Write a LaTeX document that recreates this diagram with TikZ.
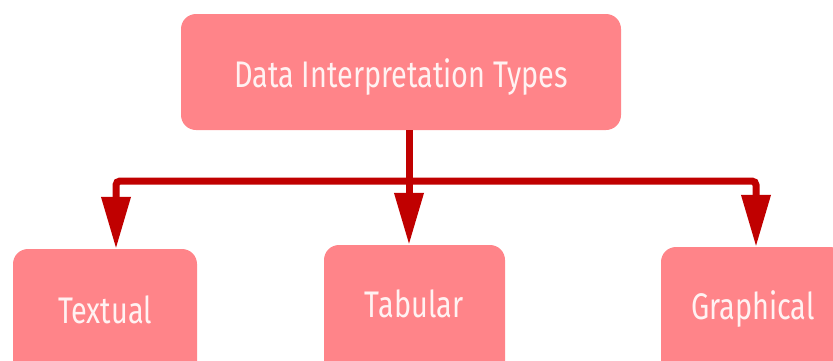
\documentclass[tikz,border=0pt]{standalone}
\usepackage{fontspec}
\setmainfont{Fira Sans}
\newfontfamily\boxfont[FakeStretch=0.78]{Fira Sans}
\usetikzlibrary{arrows.meta}
\definecolor{boxfill}{HTML}{FF8489}
\definecolor{linered}{HTML}{C00000}
\definecolor{txt}{HTML}{FFF2F2}
\tikzset{
  tbox/.style={fill=boxfill, rounded corners=15pt, inner sep=0pt},
  lbl/.style={text=txt, font=\boxfont\fontsize{37}{40}\selectfont, inner sep=0pt, anchor=base},
  conn/.style={draw=linered, line width=7pt, rounded corners=4pt, -{Triangle[width=28pt,length=52pt]}},
}
\begin{document}
\begin{tikzpicture}[x=1pt,y=-1pt]
\useasboundingbox (0,0) rectangle (833,360);
\clip (0,0) rectangle (833,360);
\node[tbox, minimum width=440pt, minimum height=116pt] (top) at (401,72) {};
\node[lbl] (t0) at (401,87) {Data Interpretation Types};
\node[tbox, minimum width=184pt, minimum height=130pt] (textual) at (105,314) {};
\node[tbox, minimum width=181pt, minimum height=134pt] (tabular) at (414.5,312) {};
\node[tbox, minimum width=184pt, minimum height=132pt] (graph) at (753,313) {};
\node[lbl] (t1) at (105,323) {Textual};
\node[lbl] (t2) at (414,317) {Tabular};
\node[lbl] (t3) at (753,319) {Graphical};
\coordinate (j) at (409,181);
\draw[draw=linered, line width=7pt] ([xshift=8]top.south) -- (j);
\draw[conn] (j) -| ([xshift=11]textual.north);
\draw[conn] (j) -- ([xshift=-5.5]tabular.north);
\draw[conn] (j) -| ([xshift=3]graph.north);
\end{tikzpicture}
\end{document}
